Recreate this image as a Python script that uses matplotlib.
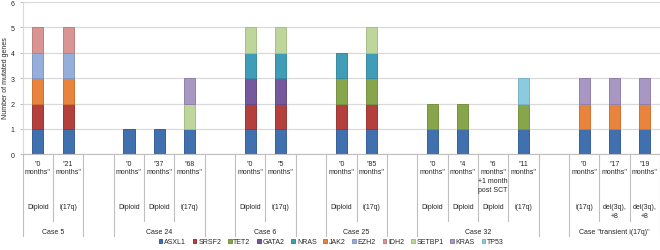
'''
stacked bars of mutated genes per sample, grouped by case
'''

import numpy as np
import matplotlib
matplotlib.use('Agg')
import matplotlib.pyplot as plt
from matplotlib.transforms import blended_transform_factory

# one slot per sample, empty slots separate the cases
time_labels = ['"0\nmonths"', '"21\nmonths"', '',
               '"0\nmonths"', '"37\nmonths"', '"68\nmonths"', '',
               '"0\nmonths"', '"5\nmonths"', '',
               '"0\nmonths"', '"85\nmonths"', '',
               '"0\nmonths"', '"4\nmonths"', '"6\nmonths"\n+1 month\npost SCT', '"11\nmonths"', '',
               '"0\nmonths"', '"17\nmonths"', '"19\nmonths"']
karyotypes = ['Diploid', 'i(17q)', '',
              'Diploid', 'Diploid', 'i(17q)', '',
              'Diploid', 'i(17q)', '',
              'Diploid', 'i(17q)', '',
              'Diploid', 'Diploid', 'Diploid', 'i(17q)', '',
              'i(17q)', 'del(3q),\n+8', 'del(3q),\n+8']
case_names = ['Case 5', 'Case 24', 'Case 6', 'Case 25', 'Case 32', 'Case "transient i(17q)"']
case_first = [0, 3, 7, 10, 13, 18]
case_last = [1, 5, 8, 11, 16, 20]

genes = ['ASXL1', 'SRSF2', 'TET2', 'GATA2', 'NRAS', 'JAK2',
         'EZH2', 'IDH2', 'SETBP1', 'KRAS', 'TP53']
ASXL1  = [1, 1, 0, 1, 1, 1, 0, 1, 1, 0, 1, 1, 0, 1, 1, 0, 1, 0, 1, 1, 1]
SRSF2  = [1, 1, 0, 0, 0, 0, 0, 1, 1, 0, 1, 1, 0, 0, 0, 0, 0, 0, 0, 0, 0]
TET2   = [0, 0, 0, 0, 0, 0, 0, 0, 0, 0, 1, 1, 0, 1, 1, 0, 1, 0, 0, 0, 0]
GATA2  = [0, 0, 0, 0, 0, 0, 0, 1, 1, 0, 0, 0, 0, 0, 0, 0, 0, 0, 0, 0, 0]
NRAS   = [0, 0, 0, 0, 0, 0, 0, 1, 1, 0, 1, 1, 0, 0, 0, 0, 0, 0, 0, 0, 0]
JAK2   = [1, 1, 0, 0, 0, 0, 0, 0, 0, 0, 0, 0, 0, 0, 0, 0, 0, 0, 1, 1, 1]
EZH2   = [1, 1, 0, 0, 0, 0, 0, 0, 0, 0, 0, 0, 0, 0, 0, 0, 0, 0, 0, 0, 0]
IDH2   = [1, 1, 0, 0, 0, 0, 0, 0, 0, 0, 0, 0, 0, 0, 0, 0, 0, 0, 0, 0, 0]
SETBP1 = [0, 0, 0, 0, 0, 1, 0, 1, 1, 0, 0, 1, 0, 0, 0, 0, 0, 0, 0, 0, 0]
KRAS   = [0, 0, 0, 0, 0, 1, 0, 0, 0, 0, 0, 0, 0, 0, 0, 0, 0, 0, 1, 1, 1]
TP53   = [0, 0, 0, 0, 0, 0, 0, 0, 0, 0, 0, 0, 0, 0, 0, 0, 1, 0, 0, 0, 0]
values = [ASXL1, SRSF2, TET2, GATA2, NRAS, JAK2, EZH2, IDH2, SETBP1, KRAS, TP53]

colors = ['#4170AE', '#B4403D', '#87A64B', '#76599C', '#3F9DB8', '#E8843D',
          '#96AEDA', '#D89594', '#BED59B', '#A896C3', '#8CCADD']
edges = ['#36609A', '#9C3532', '#76923F', '#644A86', '#358AA2', '#CF7230',
         '#8199C4', '#C17F7E', '#A7BF85', '#9280AC', '#78B4C7']

plt.rcParams['font.family'] = ['Liberation Sans', 'DejaVu Sans']
fs = 5.0
grey = '#BFBFBF'
txt = '#262626'

fig = plt.figure(figsize=(6.6, 2.51), dpi=100)
ax = fig.add_axes([0.0344, 0.381, 0.9656, 0.607])

x = np.arange(len(time_labels))
bottom = np.zeros(len(x))
for gene, vals, c, ec in zip(genes, values, colors, edges):
    v = np.array(vals, dtype=float)
    h = np.where(v > 0, v, np.nan)
    ax.bar(x, h, bottom=bottom, width=0.37, color=c, edgecolor=ec,
           linewidth=0.7, label=gene)
    bottom += v

ax.set_xlim(-0.5, len(x) - 0.5)
ax.set_ylim(0, 6)
ax.set_yticks(range(7))
ax.yaxis.grid(True, color='#D9D9D9', linewidth=0.9)
ax.set_axisbelow(True)
ax.tick_params(axis='y', labelsize=fs, length=2, color=grey, labelcolor=txt, pad=4)
ax.set_xticks([])
for s in ['top', 'right']:
    ax.spines[s].set_visible(False)
ax.spines['left'].set_color('#D9D9D9')
ax.spines['bottom'].set_color(grey)
fig.text(0.009, 0.69, 'Number of mutated genes', rotation=90, ha='center',
         va='center', fontsize=fs, color=txt)

# multi level category axis drawn by hand
trans = blended_transform_factory(ax.transData, ax.transAxes)
long_edges = set([-0.5])
for a, b in zip(case_first, case_last):
    long_edges.add(a - 0.5)
    long_edges.add(b + 0.5)
for i in range(len(x) + 1):
    xe = i - 0.5
    y_end = -0.536 if xe in long_edges else -0.438
    ax.plot([xe, xe], [0, y_end], transform=trans, color=grey,
            linewidth=0.8, clip_on=False)

for i in x:
    ax.text(i, -0.035, time_labels[i], transform=trans, ha='center', va='top',
            fontsize=fs, linespacing=1.35, color=txt)
    ax.text(i, -0.318, karyotypes[i], transform=trans, ha='center', va='top',
            fontsize=fs, linespacing=1.35, color=txt)
for name, a, b in zip(case_names, case_first, case_last):
    ax.text((a + b) / 2, -0.505, name, transform=trans, ha='center', va='center',
            fontsize=fs, color=txt)

fig.legend(loc='center', bbox_to_anchor=(0.502, 0.032), ncol=11, frameon=False,
           fontsize=fs, handlelength=0.55, handleheight=0.55, handletextpad=0.25,
           columnspacing=0.95, labelcolor=txt)

fig.savefig('out.png', dpi=100)
